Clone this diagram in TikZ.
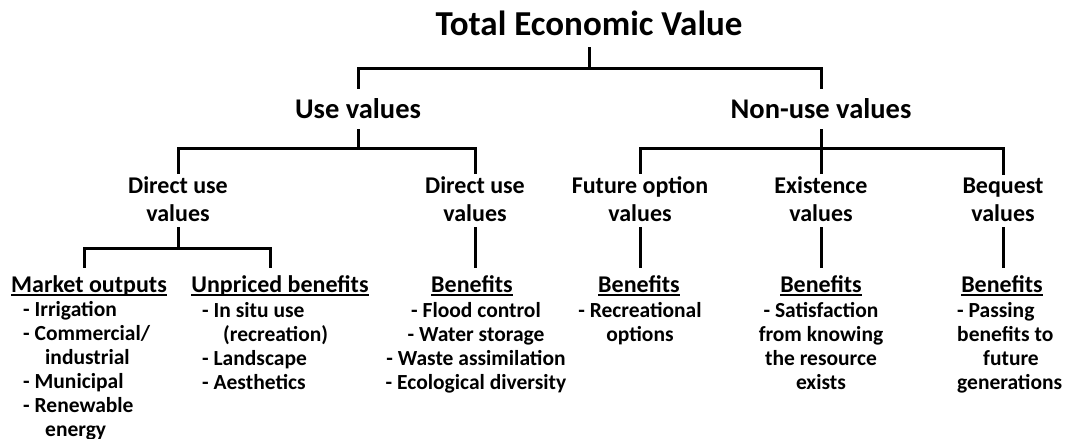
\documentclass[tikz,border=0pt]{standalone}
\usepackage{fontspec}
\setmainfont{Carlito}
\newcommand{\ulx}[1]{\setbox0\hbox{#1}\rlap{\rule[-4pt]{\wd0}{1.6pt}}\box0}
\begin{document}
\begin{tikzpicture}[x=1pt,y=-1pt,
  conn/.style={line width=3pt},
  tA/.style={inner xsep=0pt, inner ysep=12pt, text depth=0pt, font=\fontsize{35}{40}\selectfont\bfseries},
  tB/.style={inner xsep=0pt, inner ysep=9pt, text height=20pt, text depth=2pt, font=\fontsize{28.5}{34}\selectfont\bfseries},
  tC/.style={inner xsep=0pt, inner ysep=6pt, align=center, font=\fontsize{24}{28}\selectfont\bfseries},
  hd/.style={inner xsep=0pt, inner ysep=7pt, text height=17pt, text depth=5pt, font=\fontsize{24}{28}\selectfont\bfseries},
  lst/.style={inner sep=0pt, font=\fontsize{21.5}{24}\selectfont\bfseries}]
\useasboundingbox (0,0) rectangle (1066,439);
\fill[white] (0,0) rectangle (1066,439);

% level 1 and 2
\node[tA, anchor=base] (tev) at (589,35) {Total Economic Value};
\node[tB, anchor=base] (use) at (358,118) {Use values};
\node[tB, anchor=base] (non) at (821,118) {Non-use values};

% level 3 (base anchor = baseline of last line)
\node[tC, anchor=base] (du1) at (178,221) {Direct use\\values};
\node[tC, anchor=base] (du2) at (475,221) {Direct use\\values};
\node[tC, anchor=base] (fo) at (640,221) {Future option\\values};
\node[tC, anchor=base] (ex) at (821,221) {Existence\\values};
\node[tC, anchor=base] (bq) at (1003,221) {Bequest\\values};

% headings
\node[hd, anchor=base] (mo) at (89,292) {\ulx{Market outputs}};
\node[hd, anchor=base] (up) at (280,292) {\ulx{Unpriced benefits}};
\node[hd, anchor=base] (b2) at (472,292) {\ulx{Benefits}};
\node[hd, anchor=base] (b3) at (639,292) {\ulx{Benefits}};
\node[hd, anchor=base] (b4) at (821,292) {\ulx{Benefits}};
\node[hd, anchor=base] (b5) at (1002,292) {\ulx{Benefits}};

% lists (base anchor = baseline of last line)
\node[lst, align=left, anchor=base west] (l1) at (23,436)
  {- Irrigation\\- Commercial/\\\hspace*{22pt}industrial\\- Municipal\\- Renewable\\\hspace*{22pt}energy};
\node[lst, align=left, anchor=base west] (l2) at (202,389)
  {- In situ use\\\hspace*{21pt}(recreation)\\- Landscape\\- Aesthetics};
\node[lst, align=center, anchor=base] (l3) at (476,389)
  {- Flood control\\- Water storage\\- Waste assimilation\\- Ecological diversity};
\node[lst, align=center, anchor=base] (l4) at (640,341)
  {- Recreational\\options};
\node[lst, align=center, anchor=base] (l5) at (821,389)
  {- Satisfaction\\from knowing\\the resource\\exists};
\node[lst, align=left, anchor=base west] (l6) at (957,389)
  {- Passing\\benefits to\\\hspace*{26pt}future\\generations};

% bar coordinates
\coordinate (j0) at (589,68);
\coordinate (j1) at (358,148);
\coordinate (j2) at (821,148);
\coordinate (j3) at (177,248);

% connectors
\draw[conn] (tev.south) -- (tev.south |- j0);
\draw[conn] (use.north) |- (j0) -| (non.north);
\draw[conn] (use.south) -- (use.south |- j1);
\draw[conn, shorten <=-4pt, shorten >=-4pt] (du1.north) |- (j1) -| (du2.north);
\draw[conn, shorten >=-4pt] (non.south) -- (ex.north);
\draw[conn, shorten <=-4pt, shorten >=-4pt] (fo.north) |- (j2) -| (bq.north);
\draw[conn] (du1.south) -- (du1.south |- j3);
\draw[conn] ([xshift=-5pt]mo.north) |- (j3) -| ([xshift=-10pt]up.north);
\draw[conn] (du2.south) -- (du2.south |- b2.north);
\draw[conn] (fo.south) -- (fo.south |- b3.north);
\draw[conn] (ex.south) -- (ex.south |- b4.north);
\draw[conn] (bq.south) -- (bq.south |- b5.north);
\end{tikzpicture}
\end{document}
